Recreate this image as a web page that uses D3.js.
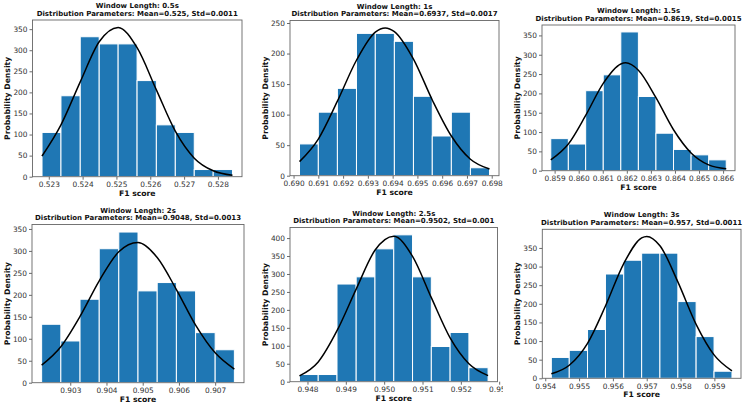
<!DOCTYPE html>
<html>
<head>
<meta charset="utf-8">
<script src="https://cdn.jsdelivr.net/npm/d3@7"></script>
<style>
  html, body { margin: 0; padding: 0; background: #fff; }
  svg { display: block; font-family: "DejaVu Sans", sans-serif; }
</style>
</head>
<body>
<svg id="chart" width="748" height="408"></svg>
<script>
// ---------- data ----------
const windowLengths = ["0.5s", "1s", "1.5s", "2s", "2.5s", "3s"];
const meanLabels = ["0.525", "0.6937", "0.8619", "0.9048", "0.9502", "0.957"];
const stdLabels  = ["0.0011", "0.0017", "0.0015", "0.0013", "0.001", "0.0011"];

const binEdges05 = [0.52280, 0.52336, 0.52393, 0.52449, 0.52505, 0.52561, 0.52618, 0.52674, 0.52730, 0.52786, 0.52843];
const binEdges1  = [0.69024, 0.69100, 0.69177, 0.69254, 0.69330, 0.69407, 0.69484, 0.69560, 0.69637, 0.69714, 0.69791];
const binEdges15 = [0.85884, 0.85957, 0.86029, 0.86102, 0.86175, 0.86248, 0.86321, 0.86394, 0.86467, 0.86540, 0.86613];
const binEdges2  = [0.90221, 0.90274, 0.90327, 0.90380, 0.90434, 0.90487, 0.90540, 0.90593, 0.90646, 0.90700, 0.90753];
const binEdges25 = [0.94779, 0.94828, 0.94877, 0.94927, 0.94976, 0.95025, 0.95074, 0.95123, 0.95172, 0.95221, 0.95271];
const binEdges3  = [0.95418, 0.95471, 0.95525, 0.95578, 0.95632, 0.95685, 0.95739, 0.95792, 0.95846, 0.95899, 0.95952];

const density05 = [105, 192, 332, 315, 315, 228, 123, 105, 17, 17];
const density1  = [52, 104, 143, 233, 233, 220, 130, 65, 104, 13];
const density15 = [83, 69, 207, 248, 359, 192, 97, 55, 41, 28];
const density2  = [133, 95, 190, 305, 343, 209, 228, 209, 114, 75];
const density25 = [20, 20, 272, 292, 370, 409, 292, 98, 137, 39];
const density3  = [56, 75, 131, 280, 317, 336, 336, 206, 112, 19];

const fitX05 = [0.52280, 0.52336, 0.52393, 0.52449, 0.52505, 0.52561, 0.52618, 0.52674, 0.52730, 0.52786, 0.52843];
const fitY05 = [49, 123, 225, 320, 354, 306, 206, 108, 44, 14, 3.5];
const fitX1  = [0.69024, 0.69100, 0.69177, 0.69254, 0.69330, 0.69370, 0.69407, 0.69484, 0.69560, 0.69637, 0.69714, 0.69791];
const fitY1  = [23, 60, 122, 189, 235, 242, 236, 191, 124, 65, 27, 11];
const fitX15 = [0.85884, 0.85957, 0.86029, 0.86102, 0.86175, 0.86195, 0.86248, 0.86321, 0.86394, 0.86467, 0.86540, 0.86613];
const fitY15 = [28, 69, 143, 226, 276, 279, 260, 189, 106, 46, 15, 5];
const fitX2  = [0.90221, 0.90274, 0.90327, 0.90380, 0.90434, 0.90487, 0.90540, 0.90593, 0.90646, 0.90700, 0.90753];
const fitY2  = [40, 82, 151, 232, 298, 319, 285, 212, 131, 68, 31];
const fitX25 = [0.94779, 0.94828, 0.94877, 0.94927, 0.94976, 0.95025, 0.95074, 0.95123, 0.95172, 0.95221, 0.95271];
const fitY25 = [16, 55, 142, 258, 366, 405, 349, 234, 122, 50, 17];
const fitX3  = [0.95418, 0.95471, 0.95525, 0.95578, 0.95632, 0.95685, 0.95700, 0.95739, 0.95792, 0.95846, 0.95899, 0.95952];
const fitY3  = [12, 35, 94, 194, 308, 377, 381, 356, 259, 145, 63, 20];

const xTicks05 = [0.523, 0.524, 0.525, 0.526, 0.527, 0.528];
const xTicks1  = [0.690, 0.691, 0.692, 0.693, 0.694, 0.695, 0.696, 0.697, 0.698];
const xTicks15 = [0.859, 0.860, 0.861, 0.862, 0.863, 0.864, 0.865, 0.866];
const xTicks2  = [0.903, 0.904, 0.905, 0.906, 0.907];
const xTicks25 = [0.948, 0.949, 0.950, 0.951, 0.952, 0.953];
const xTicks3  = [0.954, 0.955, 0.956, 0.957, 0.958, 0.959];

const yTicks05 = [0, 50, 100, 150, 200, 250, 300, 350];
const yTicks1  = [0, 50, 100, 150, 200, 250];
const yTicks15 = [0, 50, 100, 150, 200, 250, 300, 350];
const yTicks2  = [0, 50, 100, 150, 200, 250, 300, 350];
const yTicks25 = [0, 50, 100, 150, 200, 250, 300, 350, 400];
const yTicks3  = [0, 50, 100, 150, 200, 250, 300, 350];

// ---------- layout (pixels) ----------
const boxes = [
  {L: 32.5, R: 242,   T: 20,    B: 176.7, clipR: 748},
  {L: 290,  R: 499,   T: 20.5,  B: 175.7, clipR: 504},
  {L: 542,  R: 735,   T: 25,    B: 170.7, clipR: 748},
  {L: 32,   R: 244,   T: 224.5, B: 382.7, clipR: 748},
  {L: 290,  R: 497.5, T: 227.5, B: 381.7, clipR: 503},
  {L: 542.3,R: 741,   T: 229.3, B: 378.3, clipR: 748}
];

const panels = [
  {edges: binEdges05, dens: density05, fx: fitX05, fy: fitY05, xt: xTicks05, yt: yTicks05},
  {edges: binEdges1,  dens: density1,  fx: fitX1,  fy: fitY1,  xt: xTicks1,  yt: yTicks1},
  {edges: binEdges15, dens: density15, fx: fitX15, fy: fitY15, xt: xTicks15, yt: yTicks15},
  {edges: binEdges2,  dens: density2,  fx: fitX2,  fy: fitY2,  xt: xTicks2,  yt: yTicks2},
  {edges: binEdges25, dens: density25, fx: fitX25, fy: fitY25, xt: xTicks25, yt: yTicks25},
  {edges: binEdges3,  dens: density3,  fx: fitX3,  fy: fitY3,  xt: xTicks3,  yt: yTicks3}
];

const svg = d3.select("#chart");
const defs = svg.append("defs");

panels.forEach((p, i) => {
  const b = boxes[i];
  defs.append("clipPath").attr("id", "clip" + i)
    .append("rect").attr("x", b.L - 40).attr("y", b.T - 30)
    .attr("width", b.clipR - (b.L - 40)).attr("height", b.B - b.T + 60);

  const g = svg.append("g").attr("clip-path", `url(#clip${i})`);

  const lo = p.edges[0], hi = p.edges[p.edges.length - 1];
  const m = (hi - lo) * 0.05;
  const x = d3.scaleLinear().domain([lo - m, hi + m]).range([b.L, b.R]);
  const yMax = Math.max(d3.max(p.dens), d3.max(p.fy)) * 1.05;
  const y = d3.scaleLinear().domain([0, yMax]).range([b.B, b.T]);

  // bars
  g.append("g").selectAll("rect")
    .data(p.dens)
    .join("rect")
    .attr("x", (d, k) => x(p.edges[k]))
    .attr("width", (d, k) => x(p.edges[k + 1]) - x(p.edges[k]))
    .attr("y", d => y(d))
    .attr("height", d => y(0) - y(d))
    .attr("fill", "#1f77b4")
    .attr("stroke", "#ffffff")
    .attr("stroke-width", 1);

  // fitted curve
  const pts = p.fx.map((v, k) => [v, p.fy[k]]);
  g.append("path")
    .datum(pts)
    .attr("fill", "none")
    .attr("stroke", "#000")
    .attr("stroke-width", 1.5)
    .attr("d", d3.line().x(d => x(d[0])).y(d => y(d[1])).curve(d3.curveMonotoneX));

  // axes
  const xAxis = g.append("g")
    .attr("transform", `translate(0,${b.B})`)
    .call(d3.axisBottom(x).tickValues(p.xt).tickFormat(d3.format(".3f")).tickSize(3).tickPadding(2));
  const yAxis = g.append("g")
    .attr("transform", `translate(${b.L},0)`)
    .call(d3.axisLeft(y).tickValues(p.yt).tickFormat(d3.format("d")).tickSize(3).tickPadding(2));
  [xAxis, yAxis].forEach(a => {
    a.select(".domain").remove();
    a.selectAll(".tick line").attr("stroke", "#444").attr("stroke-width", 0.8);
    a.selectAll(".tick text").attr("fill", "#333")
      .style("font-family", "DejaVu Sans").style("font-size", "7.4px");
  });

  // spines
  g.append("rect")
    .attr("x", b.L).attr("y", b.T)
    .attr("width", b.R - b.L).attr("height", b.B - b.T)
    .attr("fill", "none").attr("stroke", "#666").attr("stroke-width", 0.9);

  const cx = (b.L + b.R) / 2;
  // titles
  g.append("text")
    .attr("x", cx).attr("y", b.T - 14)
    .attr("text-anchor", "middle").attr("dominant-baseline", "central")
    .style("font-size", "7px").style("font-weight", "bold").attr("fill", "#111")
    .text(`Window Length: ${windowLengths[i]}`);
  g.append("text")
    .attr("x", cx).attr("y", b.T - 6.5)
    .attr("text-anchor", "middle").attr("dominant-baseline", "central")
    .style("font-size", "7px").style("font-weight", "bold").attr("fill", "#111")
    .text(`Distribution Parameters: Mean=${meanLabels[i]}, Std=${stdLabels[i]}`);

  // axis labels
  g.append("text")
    .attr("x", cx).attr("y", b.B + 16.5)
    .attr("text-anchor", "middle").attr("dominant-baseline", "central")
    .style("font-size", "7.7px").style("font-weight", "bold").attr("fill", "#111")
    .text("F1 score");
  g.append("text")
    .attr("transform", `translate(${b.L - 25},${(b.T + b.B) / 2}) rotate(-90)`)
    .attr("text-anchor", "middle").attr("dominant-baseline", "central")
    .style("font-size", "7.7px").style("font-weight", "bold").attr("fill", "#111")
    .text("Probability Density");
});
</script>
</body>
</html>
